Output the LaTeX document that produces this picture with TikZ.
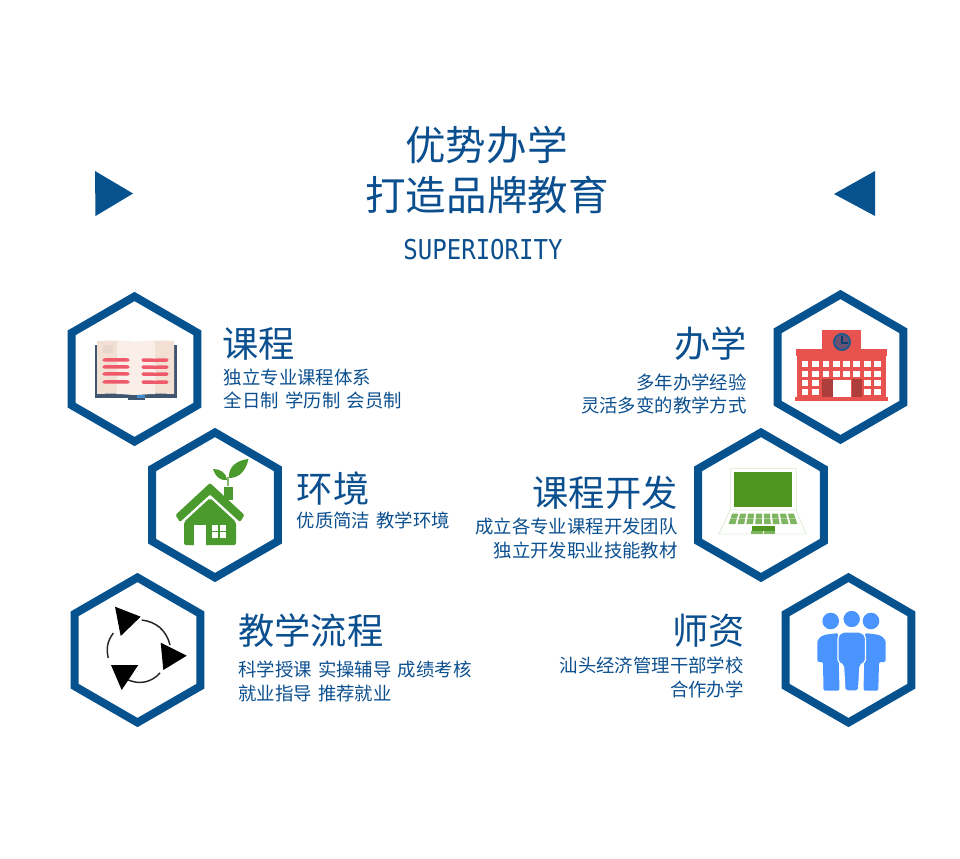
\documentclass[tikz,border=0pt]{standalone}
\usepackage{fontspec}
\setmainfont[WordSpace=1.5]{Noto Sans CJK SC}
\newfontfamily\latinfont[FakeStretch=0.88]{DejaVu Sans Mono}
\usetikzlibrary{positioning, shapes.geometric}
\definecolor{hexblue}{HTML}{05528F}
\definecolor{textblue}{HTML}{0B4F8F}
\definecolor{bookred}{HTML}{EE5A6A}
\definecolor{bookcover}{HTML}{3F5570}
\definecolor{pageside}{HTML}{F3E0D5}
\definecolor{pagemid}{HTML}{F9EEE8}
\definecolor{leafgreen}{HTML}{4A9A2E}
\definecolor{schoolred}{HTML}{E8534F}
\definecolor{screengreen}{HTML}{4F9620}
\definecolor{keygreen}{HTML}{7DB560}
\definecolor{peopleblue}{HTML}{4A94FF}
\tikzset{
  hexbox/.style={draw=hexblue, fill=white, line width=6pt, regular polygon, regular polygon sides=6,
    shape border rotate=30, minimum size=108.75pt, inner sep=0pt, outer sep=0pt},
  titletext/.style={text=textblue, font=\fontsize{30.4}{34}\selectfont, inner sep=0pt},
  headtext/.style={text=textblue, font=\fontsize{27.2}{30}\selectfont, inner sep=0pt},
  bodytext/.style={text=textblue, font=\fontsize{13.8}{17}\selectfont, inner sep=0pt},
}
\begin{document}
\begin{tikzpicture}[x=0.75pt, y=-0.75pt]
    \useasboundingbox (0,0) rectangle (960,858);
    % Title and side marks
    \node[titletext] (title1) at (486.5,145) {优势办学};
    \node[titletext] (title2) at (487,195) {打造品牌教育};
    \node[text=textblue, inner sep=0pt, font=\latinfont\fontsize{20.5}{24}\selectfont] (titleen) at (483,250) {SUPERIORITY};
    \fill[hexblue] (95,171) -- (133,193.5) -- (95.5,216) -- cycle;
    \fill[hexblue] (875,171) -- (834,194) -- (875,216) -- cycle;

    % Hexagons
    \node[hexbox] (course) at (134.5,369) {};
    \node[hexbox] (env) at (215,505) {};
    \node[hexbox] (flow) at (137.5,650) {};
    \node[hexbox] (school) at (840.5,367) {};
    \node[hexbox] (dev) at (761,505) {};
    \node[hexbox] (staff) at (848.5,650) {};

    % Left texts
    \node[headtext, anchor=west] (courseh) at (222,344) {课程};
    \node[bodytext, align=left, below=6pt of courseh.south west, anchor=north west, xshift=1.2pt] (courseb) {独立专业课程体系\\全日制 学历制 会员制};
    \node[headtext, anchor=west] (envh) at (296.5,489) {环境};
    \node[bodytext, align=left, below=4pt of envh.south west, anchor=north west] (envb) {优质简洁 教学环境};
    \node[headtext, anchor=west] (flowh) at (238,631) {教学流程};
    \node[bodytext, align=left, below=9.5pt of flowh.south west, anchor=north west] (flowb) {科学授课 实操辅导 成绩考核\\[1pt]就业指导 推荐就业};

    % Right texts
    \node[headtext, anchor=east] (schoolh) at (747,344) {办学};
    \node[bodytext, align=right, below=9pt of schoolh.south east, anchor=north east] (schoolb) {多年办学经验\\[0.5pt]灵活多变的教学方式};
    \node[headtext, anchor=east] (devh) at (678,493) {课程开发};
    \node[bodytext, align=right, below=5.5pt of devh.south east, anchor=north east] (devb) {成立各专业课程开发团队\\[1.5pt]独立开发职业技能教材};
    \node[headtext, anchor=east] (staffh) at (745,631) {师资};
    \node[bodytext, align=right, below=6.5pt of staffh.south east, anchor=north east, xshift=-0.75pt] (staffb) {汕头经济管理干部学校\\[1pt]合作办学};

    % Book icon
    \fill[bookcover] (95,345) rectangle (176.5,397.5);
    \fill[bookcover] (128,396) rectangle (145,399.5);
    \fill[cyan!60!blue!80!white] (137,394.5) rectangle (145,397.5);
    \fill[pageside] (97,341) to[bend left=4] (135,342) to[bend left=4] (174,341) -- (174,394) to[bend right=4] (135,395) to[bend right=4] (97,394) -- cycle;
    \fill[pagemid] (117,340.5) to[bend left=2] (135,342) to[bend left=2] (155,340.5) -- (155,394) to[bend right=2] (135,395) to[bend right=2] (117,394) -- cycle;
    \fill[pageside!90!gray] (103,345) rectangle (113,353);
    \foreach \ly in {360,367,374,382} {
      \draw[bookred, line width=2.6pt, line cap=round] (104,\ly) to[bend left=2] (128,\ly);
      \draw[bookred, line width=2.6pt, line cap=round] (143,\ly) to[bend right=2] (167,\ly);
    }

    % House icon
    \fill[leafgreen] (224,487) rectangle (233,500);
    \fill[leafgreen, rounded corners=1pt] (210,483) -- (244.5,515) -- (240,522) -- (210,494.5) -- (180,522) -- (175.5,515) -- cycle;
    \fill[leafgreen, rounded corners=1.5pt] (210,498) -- (236,522) -- (236,545) -- (184,545) -- (184,522) -- cycle;
    \fill[white] (194,525) rectangle (206,545.5);
    \foreach \wx in {212,219.5} \foreach \wy in {525,532} {
      \fill[white] (\wx,\wy) rectangle ++(6,5.5);
    }
    \draw[leafgreen!70!white, line width=1pt] (228,486) -- (228,477);
    \fill[leafgreen] (229,478) .. controls (228,466) and (238,460) .. (248.5,459) .. controls (246,470) and (240,478) .. (229,478) -- cycle;
    \fill[leafgreen] (227,480) .. controls (226,472) and (220,469) .. (213,469) .. controls (215,476) and (220,481) .. (227,480) -- cycle;

    % School icon
    \fill[schoolred] (822,330) rectangle (861,350);
    \fill[schoolred] (796,349) rectangle (887,356);
    \fill[schoolred] (797,356) rectangle (886,398);
    \fill[schoolred] (795,397) rectangle (888,401);
    \draw[hexblue!80!gray, fill=hexblue!55!schoolred, line width=1.5pt] (842,342) circle[radius=8];
    \draw[hexblue!80!black, line width=0.8pt] (842,336) -- (842,343) -- (848,343);
    \foreach \wx in {801.7,812,822.7,833,843.3,853.3,864,874.3} \foreach \wy in {361,370.7} {
      \fill[white] (\wx,\wy) rectangle ++(6.7,6);
    }
    \foreach \wx in {801.7,812,864,874.3} \foreach \wy in {380,389.3} {
      \fill[white] (\wx,\wy) rectangle ++(6.7,6);
    }
    \fill[schoolred!75!black] (821.7,379) rectangle (832.7,397);
    \fill[schoolred!75!black] (851.7,379) rectangle (861.7,397);
    \fill[white] (833,380) rectangle (851,397);

    % Laptop icon
    \draw[keygreen!22!white, line width=0.7pt] (730,510) -- (730,468) -- (796,468) -- (796,510);
    \draw[keygreen!22!white, line width=0.7pt] (730,510) -- (719,534) -- (806,534) -- (796,510) -- cycle;
    \fill[screengreen] (734,472) rectangle (792,507);
    \foreach \kx in {0,...,7} \foreach \ky/\kh in {513.5/5,519/5} {
      \pgfmathsetmacro{\hwa}{31.7+(\ky-513.3)*.35}
      \pgfmathsetmacro{\hwb}{31.7+(\ky+\kh-513.3)*.35}
      \pgfmathsetmacro{\xa}{763+\hwa*(-1+(\kx+.12)/4)}
      \pgfmathsetmacro{\xb}{763+\hwa*(-1+(\kx+.88)/4)}
      \pgfmathsetmacro{\xc}{763+\hwb*(-1+(\kx+.88)/4)}
      \pgfmathsetmacro{\xd}{763+\hwb*(-1+(\kx+.12)/4)}
      \fill[keygreen] (\xa,\ky) -- (\xb,\ky) -- (\xc,\ky+\kh) -- (\xd,\ky+\kh) -- cycle;
    }
    \fill[screengreen] (752,526) rectangle (775,530.5);
    \fill[keygreen] (751,531) rectangle (763,534);
    \fill[keygreen] (764,531) rectangle (775,534);

    % Cycle icon
    \fill[black] (115,606.7) -- (140.7,616.7) -- (120.7,636) -- cycle;
    \fill[black] (160.7,642.7) -- (186.7,655.7) -- (163.3,670) -- cycle;
    \fill[black] (111,665) -- (138.3,665) -- (121.7,690) -- cycle;
    \draw[black!85, line width=1.1pt] (141.7,620) to[bend left=35] (170,645);
    \draw[black!85, line width=1.1pt] (160,673) to[bend left=35] (128.3,680);
    \draw[black!85, line width=1.1pt] (108.3,658) to[bend left=25] (113.3,633);

    % People icon
    \fill[peopleblue] (830.7,621) circle[radius=8.3];
    \fill[peopleblue] (871,621) circle[radius=8.3];
    \fill[peopleblue, rounded corners=1.5pt] (817.3,662) -- (817.3,640) -- (823,635) -- (838,633) -- (839.5,690.7) -- (823.5,690.7) -- (823,662) -- cycle;
    \fill[peopleblue, rounded corners=1.5pt] (885.7,662) -- (885.7,640) -- (880,635) -- (865,633) -- (863.5,690.7) -- (878.3,690.7) -- (879,662) -- cycle;
    \draw[white, line width=0.9pt, fill=peopleblue, rounded corners=1.5pt] (838,662) -- (838,636) -- (842,632) -- (861,632) -- (865.5,636) -- (865.5,662) -- (860,665) -- (858.5,691) -- (845,691) -- (843.5,665) -- cycle;
    \draw[white, line width=0.9pt, fill=peopleblue] (851.7,619) circle[radius=8.9];
\end{tikzpicture}
\end{document}
